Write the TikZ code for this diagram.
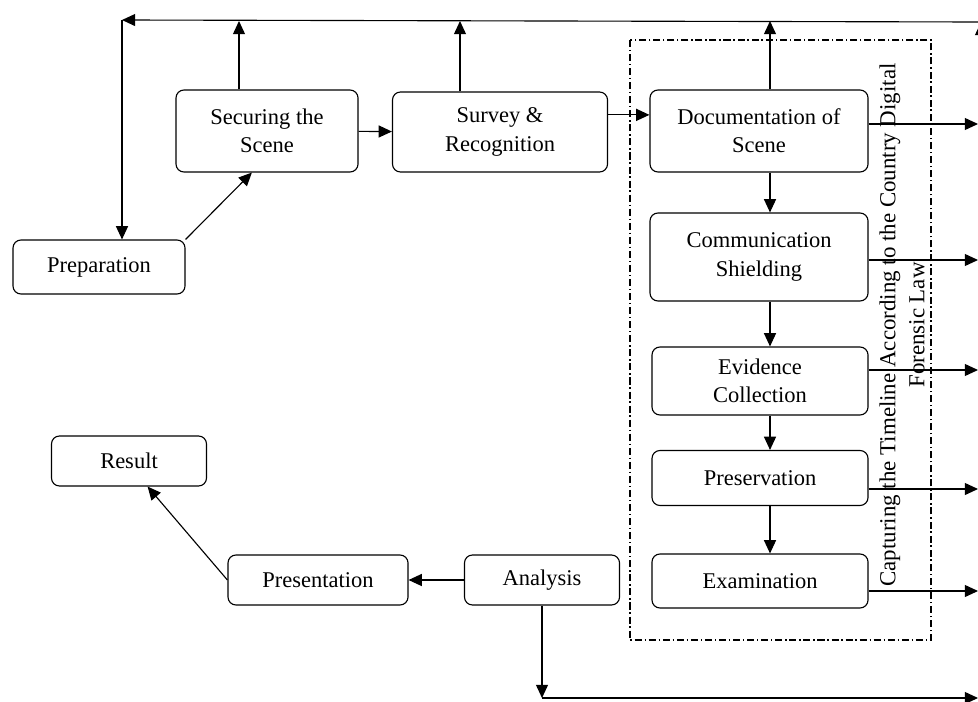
\documentclass[tikz,border=0pt]{standalone}
\usepackage{fontspec}
\setmainfont{Liberation Serif}
\usetikzlibrary{arrows.meta}

\begin{document}
\begin{tikzpicture}[x=0.025cm, y=-0.025cm]
		\tikzset{stage/.style = {draw, line width=0.8pt, rounded corners=0.2cm, align=center, inner sep=0pt, font=\fontsize{16}{20}\selectfont}}
		\tikzset{flow/.style = {-{Triangle[length=0.33cm,width=0.3cm]}, line width=0.8pt}}
		
		\useasboundingbox (0,0) rectangle (978,702);
		
		\node[stage, minimum width=4.3cm,   minimum height=1.35cm]  (prep)   at ( 99,  267) {Preparation};
		\node[stage, minimum width=4.55cm,  minimum height=2.05cm]  (secure) at (267,  131) {Securing the\\Scene};
		\node[stage, minimum width=5.375cm, minimum height=2cm]     (survey) at (500,  132) {Survey \&\\Recognition};
		\node[stage, minimum width=5.45cm,  minimum height=2.05cm]  (doc)    at (759,  131) {Documentation of\\Scene};
		\node[stage, minimum width=5.45cm,  minimum height=2.2cm]   (comm)   at (759,  257) {Communication\\Shielding};
		\node[stage, minimum width=5.4cm,   minimum height=1.7cm]   (evid)   at (760,  381) {Evidence\\Collection};
		\node[stage, minimum width=5.4cm,   minimum height=1.375cm] (pres)   at (760,  478) {Preservation};
		\node[stage, minimum width=5.4cm,   minimum height=1.35cm]  (exam)   at (760,  581) {Examination};
		\node[stage, minimum width=3.875cm, minimum height=1.25cm]  (anal)   at (542,  580) {Analysis};
		\node[stage, minimum width=4.5cm,   minimum height=1.25cm]  (presn)  at (318,  580) {Presentation};
		\node[stage, minimum width=3.875cm, minimum height=1.25cm]  (result) at (129,  461) {Result};
		
		% timeline frame
		\draw[line width=0.8pt, dash pattern=on 5pt off 2pt on 1pt off 2pt] (630,40) rectangle (931,640);
		\node[rotate=90, align=center, font=\fontsize{16.3}{20.5}\selectfont] (law) at (902,325) {Capturing the Timeline According to the Country Digital\\Forensic Law};
		
		\coordinate (tl) at (122, 20);
		\coordinate (tr) at (978, 22);
		\coordinate (ur) at (981, 60);
		\coordinate (up1) at (239, 21);
		\coordinate (up2) at (460, 21);
		\coordinate (up3) at (770, 21);
		\coordinate (o1) at (978, 124);
		\coordinate (o2) at (978, 260);
		\coordinate (o3) at (978, 370);
		\coordinate (o4) at (978, 489);
		\coordinate (o5) at (978, 591);
		\coordinate (o6) at (978, 698);
		
		\draw[flow] (tr) -- (tl);
		\draw[flow] (ur) -- (ur |- tr);
		\draw[flow] (tl) -- (tl |- prep.north);
		\draw[flow] (prep.north east) -- (secure.250);
		\draw[flow] (up1 |- secure.north) -- (up1);
		\draw[flow] (up2 |- survey.north) -- (up2);
		\draw[flow] (up3 |- doc.north) -- (up3);
		\draw[flow] (secure) -- (survey);
		\draw[flow] (survey.9) -- (doc.west |- survey.9);
		\draw[flow] (doc.south -| up3) -- (comm.north -| up3);
		\draw[flow] (comm.south -| up3) -- (evid.north -| up3);
		\draw[flow] (evid.south -| up3) -- (pres.north -| up3);
		\draw[flow] (pres.south -| up3) -- (exam.north -| up3);
		
		\draw[flow] (doc.east |- o1) -- (o1);
		\draw[flow] (comm.east |- o2) -- (o2);
		\draw[flow] (evid.east |- o3) -- (o3);
		\draw[flow] (pres.east |- o4) -- (o4);
		\draw[flow] (exam.east |- o5) -- (o5);
		
		\draw[flow] (anal.south) -- (anal.south |- o6);
		\draw[flow] (anal.south |- o6) -- (o6);
		\draw[flow] (anal) -- (presn);
		\draw[flow] (presn.west) -- (result.-54);
\end{tikzpicture}
\end{document}
